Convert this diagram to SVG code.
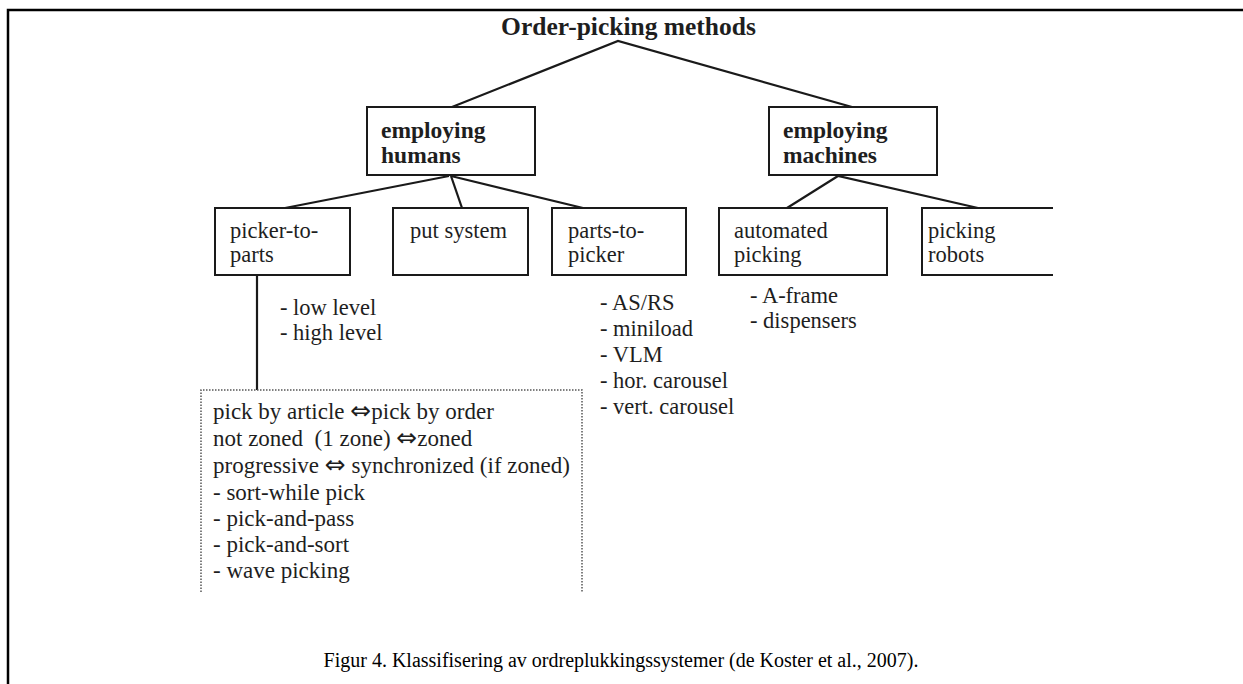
<svg xmlns="http://www.w3.org/2000/svg" width="1243" height="684" viewBox="0 0 1243 684">
  <style>
    .frame { stroke: #000; stroke-width: 2.5; fill: none; }
    .box { fill: #fff; stroke: #1a1a1a; stroke-width: 2; }
    .edge { stroke: #1a1a1a; stroke-width: 2.2; fill: none; }
    .dotted { fill: none; stroke: #555; stroke-width: 1.5; stroke-dasharray: 1.5 1.5; }
    text { font-family: "Liberation Serif", "Times New Roman", "DejaVu Sans", serif; fill: #1e1e1e; }
    .title { font-size: 25.5px; font-weight: bold; }
    .bold { font-size: 23.5px; font-weight: bold; }
    .label { font-size: 22.5px; }
    .list { font-size: 22.5px; }
    .detail { font-size: 23px; white-space: pre; }
    .arrow { font-family: "DejaVu Sans", sans-serif; font-size: 25px; }
    .caption { font-size: 20px; fill: #000; }
  </style>

  <rect width="1243" height="684" fill="#fff"/>

  <!-- page frame: top and left rules only -->
  <path class="frame" d="M8 684 V10 H1243"/>

  <!-- tree connectors -->
  <g id="connectors">
    <path class="edge" d="M452 107 L618 41 L852 107"/>
    <path class="edge" d="M285 208 L449 176"/>
    <path class="edge" d="M451 176 L462 208"/>
    <path class="edge" d="M451 176 L583 208"/>
    <path class="edge" d="M787 208 L838 176 L978 208"/>
    <path class="edge" d="M257 275 V390"/>
  </g>

  <g id="root">
    <text class="title" x="628.5" y="35" text-anchor="middle">Order-picking methods</text>
  </g>

  <g id="employing-humans">
    <rect class="box" x="367" y="107" width="168" height="68"/>
    <text class="bold" x="381" y="138">employing</text>
    <text class="bold" x="381" y="163">humans</text>
  </g>

  <g id="employing-machines">
    <rect class="box" x="769" y="107" width="168" height="68"/>
    <text class="bold" x="783" y="138">employing</text>
    <text class="bold" x="783" y="163">machines</text>
  </g>

  <g id="picker-to-parts">
    <rect class="box" x="215" y="208" width="135" height="67"/>
    <text class="label" x="230" y="238">picker-to-</text>
    <text class="label" x="230" y="262">parts</text>
  </g>

  <g id="put-system">
    <rect class="box" x="393" y="208" width="135" height="67"/>
    <text class="label" x="410" y="238">put system</text>
  </g>

  <g id="parts-to-picker">
    <rect class="box" x="552" y="208" width="134" height="67"/>
    <text class="label" x="568" y="238">parts-to-</text>
    <text class="label" x="568" y="262">picker</text>
  </g>

  <g id="automated-picking">
    <rect class="box" x="719" y="208" width="168" height="67"/>
    <text class="label" x="734" y="238">automated</text>
    <text class="label" x="734" y="262">picking</text>
  </g>

  <g id="picking-robots">
    <path class="box" d="M1053 208 H922 V275 H1053"/>
    <text class="label" x="928" y="238">picking</text>
    <text class="label" x="928" y="262">robots</text>
  </g>

  <!-- variants listed under the boxes -->
  <g id="picker-to-parts-variants">
    <text class="list" x="280" y="315">- low level</text>
    <text class="list" x="280" y="340">- high level</text>
  </g>

  <g id="parts-to-picker-variants">
    <text class="list" x="600" y="310">- AS/RS</text>
    <text class="list" x="600" y="336">- miniload</text>
    <text class="list" x="600" y="362">- VLM</text>
    <text class="list" x="600" y="388">- hor. carousel</text>
    <text class="list" x="600" y="414">- vert. carousel</text>
  </g>

  <g id="automated-picking-variants">
    <text class="list" x="750" y="303">- A-frame</text>
    <text class="list" x="750" y="328">- dispensers</text>
  </g>

  <g id="picking-policies">
    <path class="dotted" d="M201 592 V390 H582 V592"/>
    <text class="detail" x="213" y="419">pick by article <tspan class="arrow">⇔</tspan>pick by order</text>
    <text class="detail" x="213" y="446">not zoned  (1 zone) <tspan class="arrow">⇔</tspan>zoned</text>
    <text class="detail" x="213" y="473">progressive <tspan class="arrow">⇔</tspan> synchronized (if zoned)</text>
    <text class="detail" x="213" y="500">- sort-while pick</text>
    <text class="detail" x="213" y="526">- pick-and-pass</text>
    <text class="detail" x="213" y="552">- pick-and-sort</text>
    <text class="detail" x="213" y="578">- wave picking</text>
  </g>

  <g id="caption">
    <text class="caption" x="621" y="667" text-anchor="middle">Figur 4. Klassifisering av ordreplukkingssystemer (de Koster et al., 2007).</text>
  </g>
</svg>
